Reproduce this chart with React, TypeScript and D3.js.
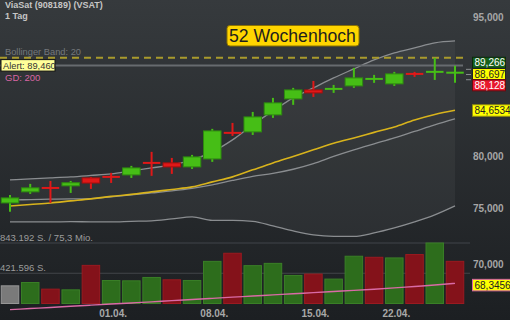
import React from "react";
import * as d3 from "d3";

const W = 510;
const H = 320;

// Trading days shown on the chart
const dates = [
  "22.03.", "25.03.", "26.03.", "27.03.", "28.03.", "01.04.", "02.04.", "03.04.",
  "04.04.", "05.04.", "08.04.", "09.04.", "10.04.", "11.04.", "12.04.", "15.04.",
  "16.04.", "17.04.", "18.04.", "22.04.", "23.04.", "24.04.", "25.04.",
];
const tickDates = ["01.04.", "08.04.", "15.04.", "22.04."];

// Daily OHLC
const opens = [75.49, 76.53, 76.93, 77.10, 77.86, 77.98, 78.15, 79.34, 79.32, 78.93, 79.71, 82.34, 82.42, 84.17, 85.85, 86.81, 86.90, 87.24, 87.98, 87.46, 88.57, 88.75, 88.66];
const highs = [76.24, 77.29, 77.57, 77.57, 77.96, 78.35, 79.03, 80.41, 79.81, 80.11, 82.73, 83.34, 84.48, 85.96, 87.03, 87.78, 87.35, 89.21, 88.44, 88.77, 88.77, 90.32, 89.43];
const lows = [74.66, 76.34, 75.49, 76.43, 76.81, 77.38, 77.86, 78.06, 78.25, 78.73, 79.42, 82.01, 82.11, 83.86, 85.22, 86.06, 86.49, 87.03, 87.57, 87.24, 88.22, 87.89, 87.57];
const closes = [75.96, 76.91, 76.87, 77.40, 77.37, 77.94, 78.83, 79.30, 78.93, 79.91, 82.52, 82.30, 83.96, 85.43, 86.81, 86.49, 86.94, 88.11, 88.02, 88.55, 88.52, 88.79, 88.697];

// Daily volume (shares)
const volumes = [246310, 292480, 200150, 190420, 531270, 320640, 316180, 363050, 330210, 320870, 587340, 700120, 527460, 559380, 391020, 410560, 340240, 658710, 644090, 635330, 682150, 843192, 587600];

// Bollinger band (20)
const bbUpper = [77.67, 77.77, 77.86, 77.96, 78.10, 78.25, 78.54, 78.83, 79.12, 79.62, 80.41, 81.61, 83.14, 84.59, 85.96, 87.03, 88.11, 89.10, 90.09, 90.88, 91.44, 92.01, 92.23];
const bbMiddle = [75.77, 75.80, 75.84, 75.87, 75.90, 76.06, 76.24, 76.43, 76.62, 76.86, 77.19, 77.62, 78.01, 78.30, 78.70, 79.25, 79.96, 80.61, 81.21, 81.81, 82.47, 83.14, 83.76];
const bbLower = [73.74, 73.75, 73.74, 73.76, 73.75, 73.74, 73.79, 73.83, 74.01, 74.20, 73.88, 73.88, 73.79, 73.38, 72.92, 72.56, 72.43, 72.43, 72.74, 73.19, 73.74, 74.38, 75.21];
// Moving average (yellow)
const avgLine = [75.21, 75.35, 75.49, 75.68, 75.87, 76.10, 76.29, 76.53, 76.76, 77.00, 77.48, 77.96, 78.64, 79.32, 79.96, 80.61, 81.26, 81.81, 82.37, 82.93, 83.65, 84.22, 84.6534];
// 200-day average
const gd200 = [66.16, 66.25, 66.34, 66.44, 66.53, 66.62, 66.71, 66.80, 66.90, 66.99, 67.09, 67.19, 67.28, 67.38, 67.47, 67.57, 67.66, 67.75, 67.85, 67.96, 68.08, 68.20, 68.3456];

const priceTicks = [70, 75, 80, 95];
const quoteValues = [89.266, 88.697, 88.128];
const quoteKinds = ["ask", "last", "bid"];
const alertValue = 89.46;
const turnoverLabel = "75,3 Mio.";

const de = d3.formatLocale({ decimal: ",", thousands: ".", grouping: [3], currency: ["", " €"] });
const fmtShares = de.format(",d");
const fmtPrice = (v: number, digits: number) => v.toFixed(digits).replace(".", ",");

const FONT = "'Liberation Sans', Arial, Helvetica, sans-serif";

export default function App() {
  const x = d3.scalePoint<string>().domain(dates).range([10, 455]);
  const y = d3.scaleLog().domain([70, 95]).range([264, 17]);
  const volMax = d3.max(volumes) as number;
  const yv = d3.scaleLinear().domain([0, volMax]).range([303.5, 243]);
  const high52 = d3.max(highs) as number;

  const bw = 17.5;
  const idx = dates.map((_, i) => i);

  const line = (vals: number[]) =>
    d3
      .line<number>()
      .x((i) => x(dates[i]) as number)
      .y((i) => y(vals[i]))
      .curve(d3.curveMonotoneX)(idx) as string;

  const bandArea = d3
    .area<number>()
    .x((i) => x(dates[i]) as number)
    .y0((i) => y(bbLower[i]))
    .y1((i) => y(bbUpper[i]))
    .curve(d3.curveMonotoneX)(idx) as string;

  const quoteStyles: Record<string, { fill: string; stroke: string; text: string }> = {
    ask: { fill: "#17601b", stroke: "#0a2a0c", text: "#ffffff" },
    last: { fill: "#ffff00", stroke: "#222222", text: "#222222" },
    bid: { fill: "#e8182c", stroke: "#6a0a10", text: "#ffffff" },
  };
  const midQuote = y(quoteValues[1]) + 1.5;

  return (
    <svg
      width={W}
      height={H}
      viewBox={`0 0 ${W} ${H}`}
      style={{ position: "fixed", left: 0, top: 0, display: "block" }}
      fontFamily={FONT}
    >
      <defs>
        <linearGradient id="bg" x1="0" y1="0" x2="0" y2="1">
          <stop offset="0" stopColor="#363a3d" />
          <stop offset="1" stopColor="#1c1f22" />
        </linearGradient>
      </defs>
      <rect x={0} y={0} width={W} height={H} fill="url(#bg)" />

      {/* Bollinger band fill */}
      <path d={bandArea} fill="rgba(255,255,255,0.045)" />

      {/* volume grid */}
      <line x1={0} x2={470} y1={yv(volMax)} y2={yv(volMax)} stroke="#41454a" strokeWidth={1} />
      <line x1={0} x2={470} y1={yv(volMax / 2)} y2={yv(volMax / 2)} stroke="#41454a" strokeWidth={1} />

      {/* volume bars */}
      {volumes.map((v, i) => {
        const cx = x(dates[i]) as number;
        let fill = "#7a7a7a";
        let stroke = "#969696";
        if (i > 0) {
          if (closes[i] >= closes[i - 1]) {
            fill = "#2d6d1c";
            stroke = "#3a7f27";
          } else {
            fill = "#84121a";
            stroke = "#9a1a20";
          }
        }
        return (
          <rect
            key={`v${i}`}
            x={cx - bw / 2}
            y={yv(v)}
            width={bw}
            height={yv(0) - yv(v)}
            fill={fill}
            stroke={stroke}
            strokeWidth={1}
          />
        );
      })}

      {/* indicator lines */}
      <path d={line(bbLower)} fill="none" stroke="#8a8d90" strokeWidth={1.3} />
      <path d={line(bbUpper)} fill="none" stroke="#8a8d90" strokeWidth={1.3} />
      <path d={line(bbMiddle)} fill="none" stroke="#8a8d90" strokeWidth={1.3} />
      <path d={line(avgLine)} fill="none" stroke="#d8b31c" strokeWidth={1.6} />
      <path d={line(gd200)} fill="none" stroke="#d96aa6" strokeWidth={1.4} />

      {/* 52-week high and alert lines */}
      <line x1={0} x2={463} y1={y(high52)} y2={y(high52)} stroke="#a99a2c" strokeWidth={2} strokeDasharray="7,5" />
      <line x1={0} x2={463} y1={y(alertValue)} y2={y(alertValue)} stroke="#676b6f" strokeWidth={2} />

      {/* candles */}
      {dates.map((d, i) => {
        const cx = x(d) as number;
        const up = closes[i] >= opens[i];
        const fill = up ? "#46be16" : "#e01818";
        const stroke = up ? "#2e8a10" : "#a80e0e";
        const top = y(Math.max(opens[i], closes[i]));
        const bot = y(Math.min(opens[i], closes[i]));
        const h = Math.max(bot - top, 2);
        return (
          <g key={`c${i}`}>
            <line x1={cx} x2={cx} y1={y(highs[i])} y2={y(lows[i])} stroke={fill} strokeWidth={2} />
            <rect
              x={cx - bw / 2}
              y={(top + bot) / 2 - h / 2}
              width={bw}
              height={h}
              fill={fill}
              stroke={bot - top > 2 ? stroke : "none"}
              strokeWidth={1}
            />
          </g>
        );
      })}

      {/* header texts */}
      <text x={5} y={8.4} fontSize={9} fontWeight="bold" fill="#c6c6c6">
        ViaSat (908189) (VSAT)
      </text>
      <text x={5} y={18.6} fontSize={9} fontWeight="bold" fill="#c6c6c6">
        1 Tag
      </text>
      <text x={5} y={55} fontSize={9.3} fill="#74787c">
        Bollinger Band: 20
      </text>
      <g>
        <rect x={1} y={y(alertValue) - 6} width={54} height={11.5} fill="#ffff99" stroke="#111" strokeWidth={1} />
        <text x={3} y={y(alertValue) + 3.2} fontSize={9.3} fill="#333">
          {`Alert: ${fmtPrice(alertValue, 3)}`}
        </text>
      </g>
      <text x={5} y={81} fontSize={9.5} fill="#d966a4">
        GD: 200
      </text>

      {/* 52-week high badge */}
      <rect x={227} y={25.5} width={132} height={20.5} rx={3} fill="#ffd500" stroke="#8c7200" strokeWidth={1} />
      <text x={229} y={42.3} fontSize={17.6} fill="#1e1e1e">
        52 Wochenhoch
      </text>

      {/* volume labels */}
      <text x={0} y={241} fontSize={9.5} fill="#9c9c9c">
        {`${fmtShares(volMax)} S. / ${turnoverLabel}`}
      </text>
      <text x={0} y={271} fontSize={9.5} fill="#9c9c9c">
        {`${fmtShares(volMax / 2)} S.`}
      </text>

      {/* date axis */}
      {tickDates.map((d) => (
        <text
          key={d}
          x={(x(d) as number) + 2}
          y={317}
          fontSize={10}
          fontWeight="bold"
          fill="#a8a8a8"
          textAnchor="middle"
        >
          {d}
        </text>
      ))}

      {/* price axis */}
      {priceTicks.map((v) => (
        <text key={v} x={473} y={y(v) + 3.6} fontSize={10} fontWeight="bold" fill="#a6a6a6">
          {fmtPrice(v, 3)}
        </text>
      ))}

      {/* quote markers */}
      {quoteValues.map((v, i) => (
        <line key={`t${i}`} x1={466} x2={471} y1={y(v) + 2} y2={y(v) + 2} stroke="#8a8d90" strokeWidth={1} />
      ))}
      {quoteValues.map((v, i) => {
        const st = quoteStyles[quoteKinds[i]];
        const cy = midQuote + (i - 1) * 11.3;
        return (
          <g key={`q${i}`}>
            <rect x={472.5} y={cy - 5.5} width={33} height={11} fill={st.fill} stroke={st.stroke} strokeWidth={1} />
            <text x={474.5} y={cy + 3.6} fontSize={10} fill={st.text}>
              {fmtPrice(v, 3)}
            </text>
          </g>
        );
      })}
      <g>
        <rect x={472.5} y={y(avgLine[avgLine.length - 1]) - 5.5} width={40} height={11.5} fill="#ffff00" stroke="#8f8a10" strokeWidth={1} />
        <text x={474.5} y={y(avgLine[avgLine.length - 1]) + 3.7} fontSize={10} fill="#222">
          {fmtPrice(avgLine[avgLine.length - 1], 4)}
        </text>
      </g>
      <g>
        <rect x={472.5} y={y(gd200[gd200.length - 1]) - 4} width={40} height={11.5} fill="#ffff00" stroke="#d966a4" strokeWidth={1} />
        <text x={474.5} y={y(gd200[gd200.length - 1]) + 5.2} fontSize={10} fill="#222">
          {fmtPrice(gd200[gd200.length - 1], 4)}
        </text>
      </g>
    </svg>
  );
}
